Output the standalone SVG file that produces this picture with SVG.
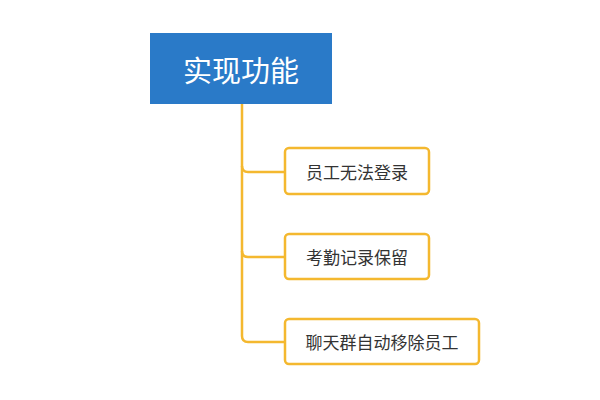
<svg xmlns="http://www.w3.org/2000/svg" width="600" height="400" viewBox="0 0 600 400">
<style>
.child rect{fill:#fff;stroke:#F4B82F;stroke-width:2.5}
.child text{font-family:"Noto Sans CJK SC","Noto Sans",sans-serif;font-size:17px;fill:#333;text-anchor:middle;dominant-baseline:central}
.conn path{fill:none;stroke:#F4B82F;stroke-width:2.5}
</style>
<rect width="600" height="400" fill="#fff"/>
<g id="root">
<rect x="150" y="33" width="182" height="71" fill="#2A7AC8"/>
<text x="241" y="69" font-family="'Noto Sans CJK SC','Noto Sans',sans-serif" font-size="29" fill="#fff" text-anchor="middle" dominant-baseline="central">实现功能</text>
</g>
<g id="connectors" class="conn">
<path d="M242 104 V166 Q242 172 248 172 H285"/>
<path d="M242 166 V251 Q242 257 248 257 H285"/>
<path d="M242 251 V336 Q242 342 248 342 H285"/>
</g>
<g id="n1" class="child">
<rect x="285" y="148" width="144" height="46" rx="4"/>
<text x="357" y="171">员工无法登录</text>
</g>
<g id="n2" class="child">
<rect x="285" y="234" width="144" height="45" rx="4"/>
<text x="357" y="256.5">考勤记录保留</text>
</g>
<g id="n3" class="child">
<rect x="285" y="319" width="194" height="45" rx="4"/>
<text x="382" y="341.5">聊天群自动移除员工</text>
</g>
</svg>
